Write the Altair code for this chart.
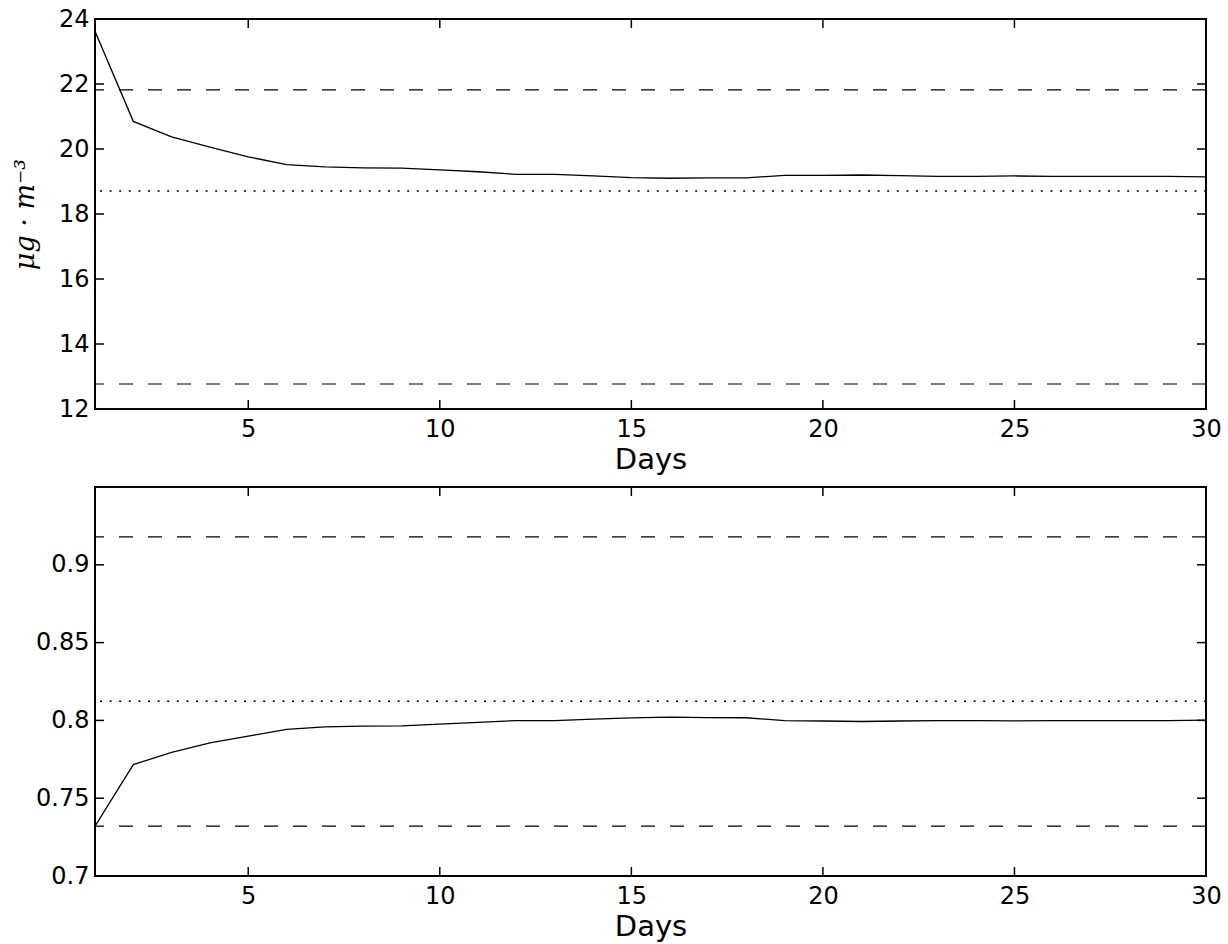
import altair as alt
import pandas as pd

days = list(range(1, 31))
conc = [23.62, 20.85, 20.37, 20.06, 19.76, 19.52, 19.45, 19.42, 19.41, 19.36,
        19.30, 19.22, 19.22, 19.17, 19.12, 19.10, 19.11, 19.11, 19.19, 19.19,
        19.20, 19.18, 19.16, 19.16, 19.17, 19.16, 19.16, 19.16, 19.16, 19.14]
ratio = [0.732, 0.7716, 0.7795, 0.7855, 0.7899, 0.7942, 0.7959, 0.7963, 0.7965, 0.7976,
         0.7987, 0.7999, 0.7998, 0.8008, 0.8016, 0.8021, 0.8018, 0.8017, 0.7999, 0.7996,
         0.7993, 0.7996, 0.7999, 0.7998, 0.7997, 0.7999, 0.7999, 0.7998, 0.7998, 0.8002]
conc_dashed = [21.82, 12.77]
conc_dotted = [18.71]
ratio_dashed = [0.918, 0.732]
ratio_dotted = [0.8123]
x_ticks = [5, 10, 15, 20, 25, 30]
conc_ticks = [12, 14, 16, 18, 20, 22, 24]
ratio_ticks = [0.7, 0.75, 0.8, 0.85, 0.9]

W = 1111
TICK = 9


def panel(values, dashed, dotted, yticks, domain, ytitle, fmt, H):
    xs = alt.Scale(domain=[1, 30], nice=False, zero=False)
    ys = alt.Scale(domain=domain, nice=False, zero=False)
    xaxis = alt.Axis(values=x_ticks, title="Days", ticks=False, domain=False, grid=False,
                     labelFlush=False, labelOverlap=False, labelFontSize=24, titleFontSize=29,
                     labelPadding=8, titlePadding=4, titleFontWeight="normal",
                     labelFont="DejaVu Sans", titleFont="DejaVu Sans",
                     labelColor="black", titleColor="black")
    ykw = dict(values=yticks, ticks=False, domain=False, grid=False, format=fmt,
               labelFlush=False, labelOverlap=False, labelFontSize=24, labelPadding=6,
               labelFont="DejaVu Sans", labelColor="black")
    if ytitle:
        yaxis = alt.Axis(title=ytitle, titleFont="DejaVu Serif", titleFontStyle="italic",
                         titleFontSize=27, titleFontWeight="normal", titlePadding=19,
                         titleColor="black", **ykw)
    else:
        yaxis = alt.Axis(title=None, **ykw)

    df = pd.DataFrame({"day": days, "v": values})
    xt = pd.DataFrame({"day": x_ticks})
    yt = pd.DataFrame({"v": yticks})

    xb = alt.Chart(xt).mark_rule(color="black", strokeWidth=1.5).encode(
        x=alt.X("day:Q", scale=xs, axis=xaxis), y=alt.value(H), y2=alt.value(H - TICK))
    xtop = alt.Chart(xt).mark_rule(color="black", strokeWidth=1.5).encode(
        x=alt.X("day:Q", scale=xs), y=alt.value(0), y2=alt.value(TICK))
    yl = alt.Chart(yt).mark_rule(color="black", strokeWidth=1.5).encode(
        y=alt.Y("v:Q", scale=ys, axis=yaxis), x=alt.value(0), x2=alt.value(TICK))
    yr = alt.Chart(yt).mark_rule(color="black", strokeWidth=1.5).encode(
        y=alt.Y("v:Q", scale=ys), x=alt.value(W), x2=alt.value(W - TICK))
    dash = alt.Chart(pd.DataFrame({"v": dashed})).mark_rule(
        color="black", strokeWidth=1.2, strokeDash=[14, 15]).encode(
        y=alt.Y("v:Q", scale=ys))
    dot = alt.Chart(pd.DataFrame({"v": dotted})).mark_rule(
        color="black", strokeWidth=1.5, strokeDash=[2, 7.6]).encode(
        y=alt.Y("v:Q", scale=ys))
    line = alt.Chart(df).mark_line(color="black", strokeWidth=1.3, clip=True).encode(
        x=alt.X("day:Q", scale=xs), y=alt.Y("v:Q", scale=ys))
    return alt.layer(xb, xtop, yl, yr, dash, dot, line).properties(width=W, height=H)


top = panel(conc, conc_dashed, conc_dotted, conc_ticks, [12, 24], "μg · m⁻³", "d", 390)
bottom = panel(ratio, ratio_dashed, ratio_dotted, ratio_ticks, [0.7, 0.95], None, "~g", 389)

chart = alt.vconcat(top, bottom, spacing=10).properties(
    padding={"left": 10, "top": 6, "right": 5, "bottom": 5},
    background="white",
).configure_view(stroke="black", strokeWidth=2)

chart.save("out.html", embed_options={"renderer": "svg", "actions": False})
